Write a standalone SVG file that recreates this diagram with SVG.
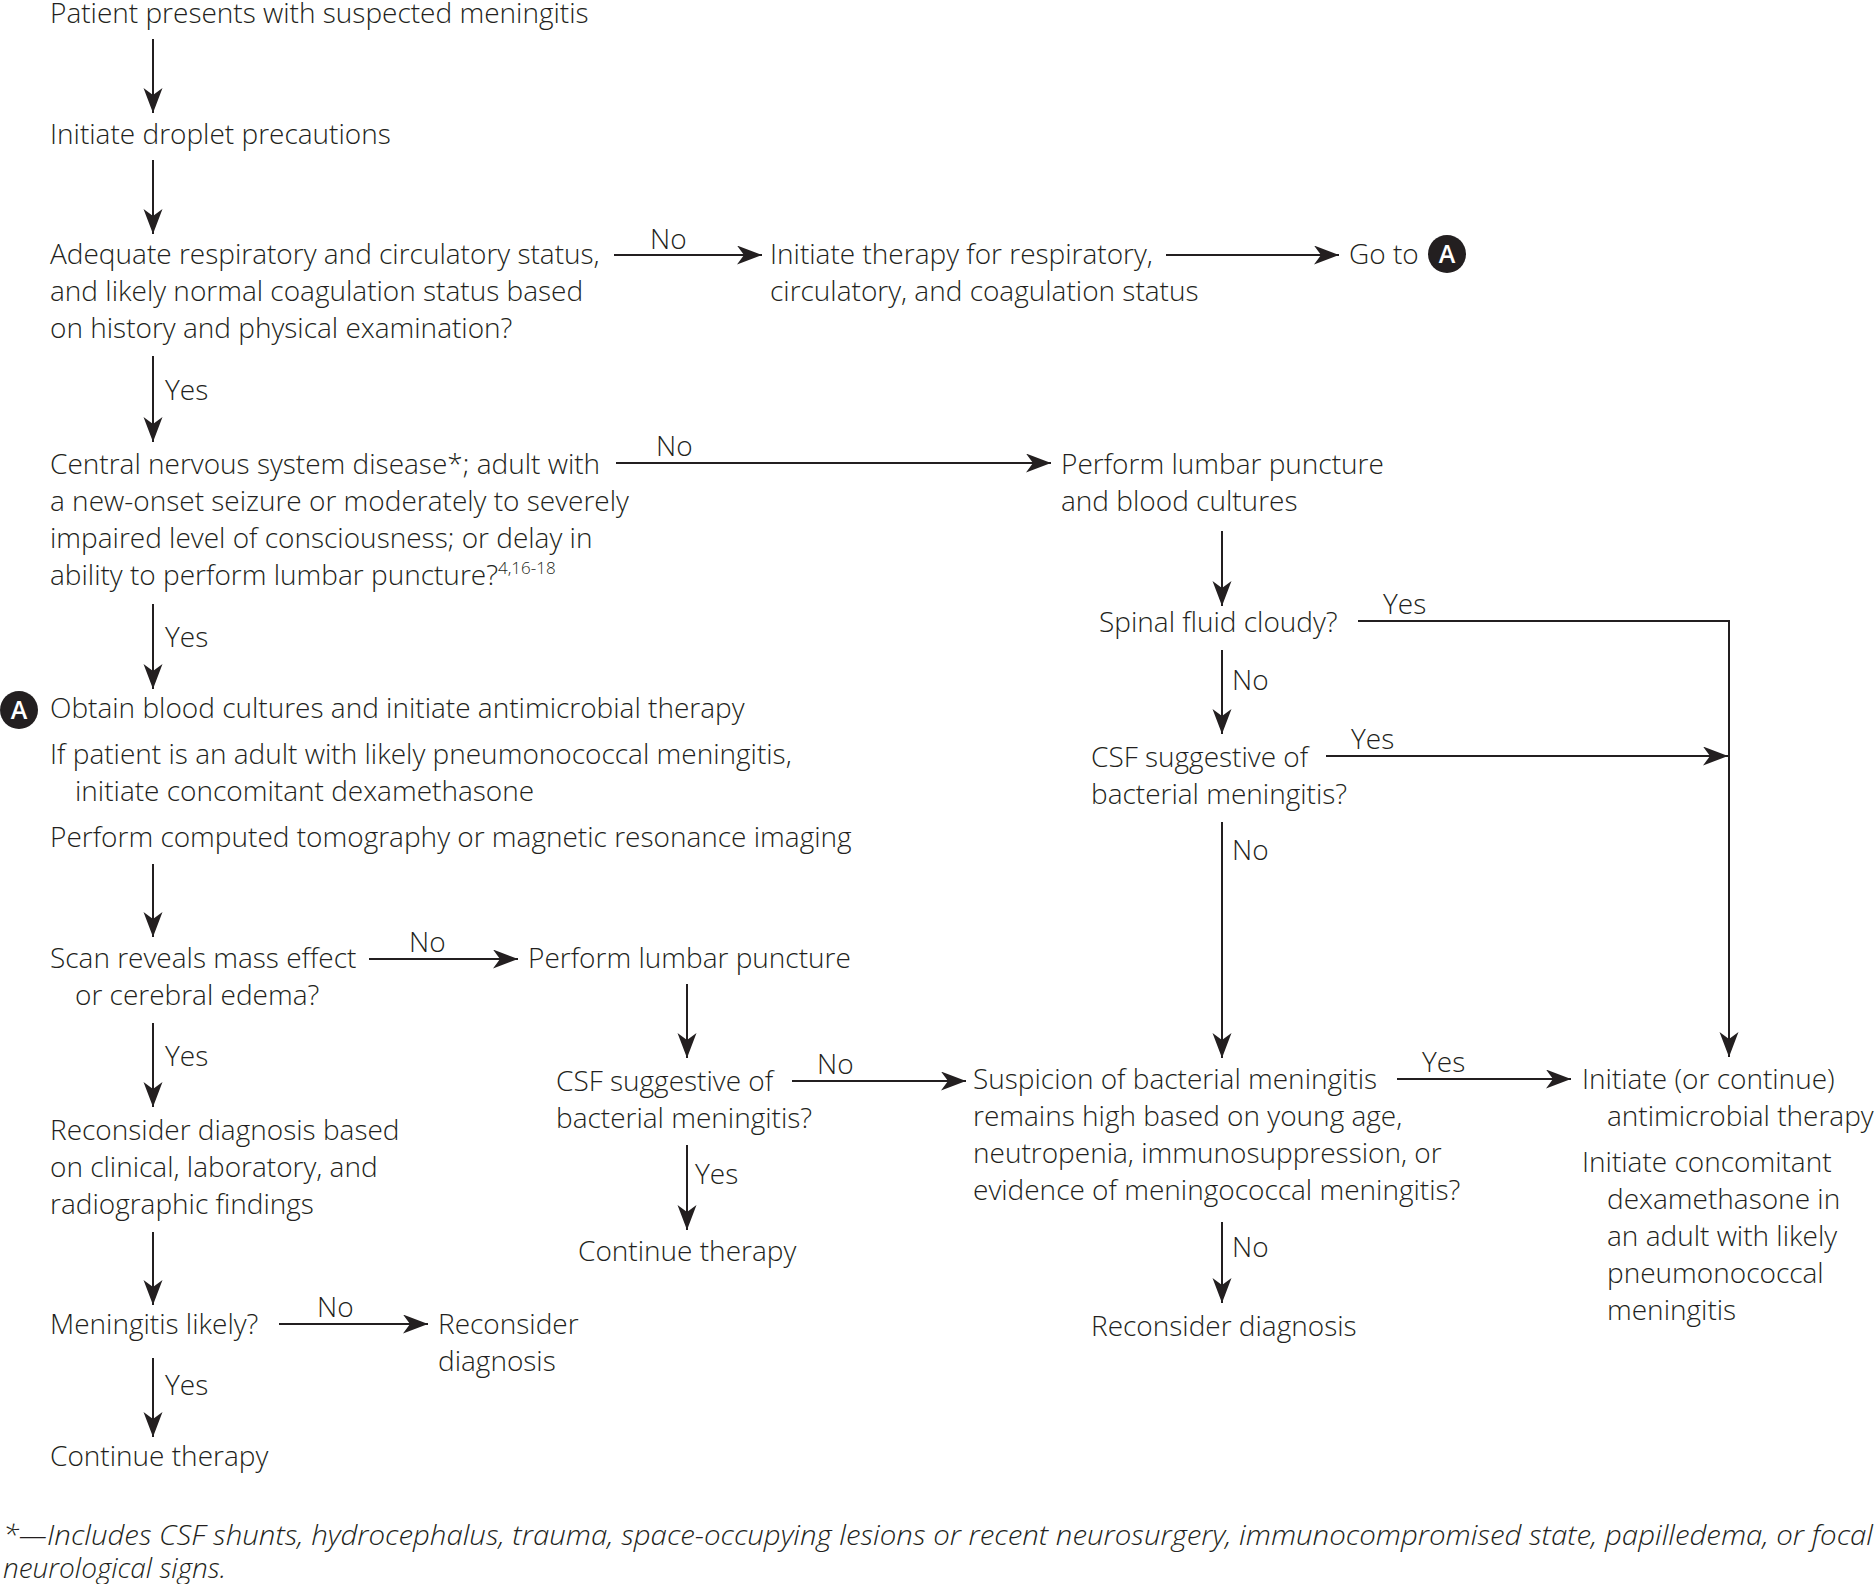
<svg xmlns="http://www.w3.org/2000/svg" width="1876" height="1584" viewBox="0 0 1876 1584">
<style>
text{font-family:"Open Sans","Noto Sans","Liberation Sans",sans-serif;font-size:28px;font-weight:300;fill:#231f20}
.sup{font-size:17px}
.foot{font-style:italic}
.ln{stroke:#231f20;stroke-width:2;fill:none}
.ar{marker-end:url(#ah)}
.badge{fill:#231f20}
.badgeT{fill:#fff;font-size:25px;font-weight:600;text-anchor:middle}
</style>
<defs>
<marker id="ah" markerUnits="userSpaceOnUse" markerWidth="26" markerHeight="20" refX="25" refY="9.5" orient="auto">
<path d="M0,0 L25,9.5 L0,19 L7,9.5 z" fill="#231f20"/>
</marker>
</defs>
<rect width="1876" height="1584" fill="#fff"/>

<g id="connectors">
<line class="ln ar" x1="153" y1="39" x2="153" y2="113"/>
<line class="ln ar" x1="153" y1="160" x2="153" y2="234"/>
<line class="ln ar" x1="153" y1="356" x2="153" y2="442"/>
<line class="ln ar" x1="153" y1="604" x2="153" y2="689"/>
<line class="ln ar" x1="153" y1="864" x2="153" y2="937"/>
<line class="ln ar" x1="153" y1="1023" x2="153" y2="1107"/>
<line class="ln ar" x1="153" y1="1232" x2="153" y2="1305"/>
<line class="ln ar" x1="153" y1="1358" x2="153" y2="1437"/>
<line class="ln ar" x1="614" y1="255" x2="762" y2="255"/>
<line class="ln ar" x1="1166" y1="255" x2="1339" y2="255"/>
<line class="ln ar" x1="616" y1="463" x2="1051" y2="463"/>
<line class="ln ar" x1="369" y1="959" x2="518" y2="959"/>
<line class="ln ar" x1="792" y1="1081" x2="966" y2="1081"/>
<line class="ln ar" x1="1397" y1="1079" x2="1571" y2="1079"/>
<line class="ln ar" x1="279" y1="1324" x2="428" y2="1324"/>
<polyline class="ln ar" points="1358,621 1729,621 1729,1057"/>
<line class="ln ar" x1="1326" y1="756" x2="1728" y2="756"/>
<line class="ln ar" x1="1222" y1="531" x2="1222" y2="606"/>
<line class="ln ar" x1="1222" y1="650" x2="1222" y2="734"/>
<line class="ln ar" x1="1222" y1="822" x2="1222" y2="1058"/>
<line class="ln ar" x1="1222" y1="1222" x2="1222" y2="1303"/>
<line class="ln ar" x1="687" y1="984" x2="687" y2="1058"/>
<line class="ln ar" x1="687" y1="1145" x2="687" y2="1230"/>
<g id="edge-labels">
<text x="165" y="400">Yes</text>
<text x="165" y="647">Yes</text>
<text x="165" y="1066">Yes</text>
<text x="165" y="1395">Yes</text>
<text x="650" y="249">No</text>
<text x="656" y="456">No</text>
<text x="409" y="952">No</text>
<text x="817" y="1074">No</text>
<text x="1422" y="1072">Yes</text>
<text x="317" y="1317">No</text>
<text x="1383" y="614">Yes</text>
<text x="1351" y="749">Yes</text>
<text x="1232" y="690">No</text>
<text x="1232" y="860">No</text>
<text x="1232" y="1257">No</text>
<text x="695" y="1184">Yes</text>
</g>
</g>

<g id="n-start"><text x="50" y="23">Patient presents with suspected meningitis</text></g>
<g id="n-droplet"><text x="50" y="144">Initiate droplet precautions</text></g>
<g id="n-adequate">
<text x="50" y="264">Adequate respiratory and circulatory status,</text>
<text x="50" y="301">and likely normal coagulation status based</text>
<text x="50" y="338">on history and physical examination?</text>
</g>
<g id="n-therapy-resp">
<text x="770" y="264">Initiate therapy for respiratory,</text>
<text x="770" y="301">circulatory, and coagulation status</text>
</g>
<g id="n-goto">
<text x="1349" y="264">Go to</text>
<circle class="badge" cx="1447" cy="254" r="19"/>
<text class="badgeT" x="1447" y="263">A</text>
</g>
<g id="n-cns">
<text x="50" y="474">Central nervous system disease*; adult with</text>
<text x="50" y="511">a new-onset seizure or moderately to severely</text>
<text x="50" y="548">impaired level of consciousness; or delay in</text>
<text x="50" y="585">ability to perform lumbar puncture?<tspan class="sup" dy="-11">4,16-18</tspan></text>
</g>
<g id="n-lp-blood">
<text x="1061" y="474">Perform lumbar puncture</text>
<text x="1061" y="511">and blood cultures</text>
</g>
<g id="n-spinal"><text x="1099" y="632">Spinal fluid cloudy?</text></g>
<g id="n-csf-right">
<text x="1091" y="767">CSF suggestive of</text>
<text x="1091" y="804">bacterial meningitis?</text>
</g>
<g id="n-obtain">
<circle class="badge" cx="19" cy="710" r="19"/>
<text class="badgeT" x="19" y="719">A</text>
<text x="50" y="718">Obtain blood cultures and initiate antimicrobial therapy</text>
<text x="50" y="764">If patient is an adult with likely pneumonococcal meningitis,</text>
<text x="75" y="801">initiate concomitant dexamethasone</text>
<text x="50" y="847">Perform computed tomography or magnetic resonance imaging</text>
</g>
<g id="n-scan">
<text x="50" y="968">Scan reveals mass effect</text>
<text x="75" y="1005">or cerebral edema?</text>
</g>
<g id="n-lp"><text x="528" y="968">Perform lumbar puncture</text></g>
<g id="n-csf-mid">
<text x="556" y="1091">CSF suggestive of</text>
<text x="556" y="1128">bacterial meningitis?</text>
</g>
<g id="n-continue-mid"><text x="578" y="1261">Continue therapy</text></g>
<g id="n-suspicion">
<text x="973" y="1089">Suspicion of bacterial meningitis</text>
<text x="973" y="1126">remains high based on young age,</text>
<text x="973" y="1163">neutropenia, immunosuppression, or</text>
<text x="973" y="1200">evidence of meningococcal meningitis?</text>
</g>
<g id="n-reconsider-right"><text x="1091" y="1336">Reconsider diagnosis</text></g>
<g id="n-initiate-abx">
<text x="1582" y="1089">Initiate (or continue)</text>
<text x="1607" y="1126">antimicrobial therapy</text>
<text x="1582" y="1172">Initiate concomitant</text>
<text x="1607" y="1209">dexamethasone in</text>
<text x="1607" y="1246">an adult with likely</text>
<text x="1607" y="1283">pneumonococcal</text>
<text x="1607" y="1320">meningitis</text>
</g>
<g id="n-reconsider-based">
<text x="50" y="1140">Reconsider diagnosis based</text>
<text x="50" y="1177">on clinical, laboratory, and</text>
<text x="50" y="1214">radiographic findings</text>
</g>
<g id="n-likely"><text x="50" y="1334">Meningitis likely?</text></g>
<g id="n-reconsider-left">
<text x="438" y="1334">Reconsider</text>
<text x="438" y="1371">diagnosis</text>
</g>
<g id="n-continue-left"><text x="50" y="1466">Continue therapy</text></g>
<g id="footnote">
<text class="foot" x="3" y="1545" textLength="1870" lengthAdjust="spacingAndGlyphs">*—Includes CSF shunts, hydrocephalus, trauma, space-occupying lesions or recent neurosurgery, immunocompromised state, papilledema, or focal</text>
<text class="foot" x="3" y="1578">neurological signs.</text>
</g>
</svg>
